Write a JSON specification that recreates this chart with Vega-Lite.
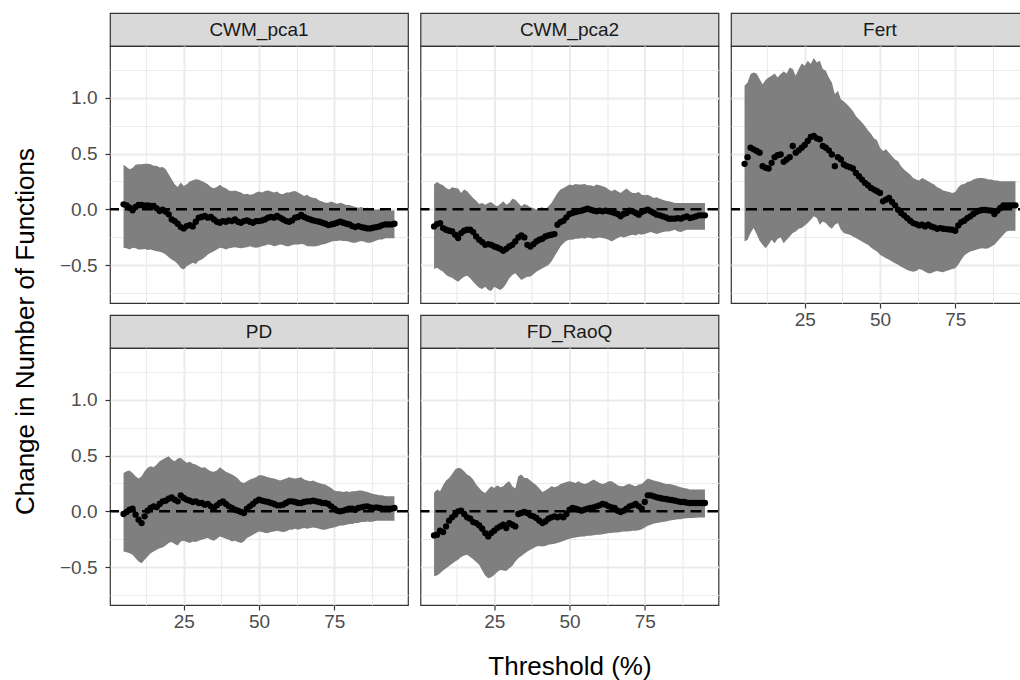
{
  "$schema": "https://vega.github.io/schema/vega-lite/v6.json",
  "background": "white",
  "padding": {"left": 11, "top": 12, "right": 4, "bottom": 4},
  "config": {
    "font": "Liberation Sans",
    "view": {"stroke": "#333333", "strokeWidth": 1.2, "fill": "white"},
    "axis": {
      "gridColor": "#EBEBEB",
      "tickColor": "#333333",
      "tickWidth": 1.2,
      "tickSize": 5,
      "domain": false,
      "labelColor": "#4D4D4D",
      "labelFont": "Liberation Sans",
      "labelFontSize": 19,
      "labelOverlap": false,
      "labelFlush": false,
      "titleFont": "Liberation Sans",
      "titleFontSize": 26,
      "titleFontWeight": "normal",
      "titleColor": "#000000"
    }
  },
  "datasets": {
    "CWM_pca1": [
      {"thr":5,"est":0.045,"lo":-0.345,"hi":0.4},{"thr":6,"est":0.036,"lo":-0.35,"hi":0.38},{"thr":7,"est":0.015,"lo":-0.36,"hi":0.36},{"thr":8,"est":-0.009,"lo":-0.345,"hi":0.37},{"thr":9,"est":0.021,"lo":-0.35,"hi":0.4},
      {"thr":10,"est":0.039,"lo":-0.36,"hi":0.405},{"thr":11,"est":0.039,"lo":-0.36,"hi":0.405},{"thr":12,"est":0.033,"lo":-0.355,"hi":0.41},{"thr":13,"est":0.036,"lo":-0.365,"hi":0.41},{"thr":14,"est":0.03,"lo":-0.36,"hi":0.405},
      {"thr":15,"est":0.03,"lo":-0.37,"hi":0.39},{"thr":16,"est":0.009,"lo":-0.375,"hi":0.39},{"thr":17,"est":-0.015,"lo":-0.38,"hi":0.375},{"thr":18,"est":-0.003,"lo":-0.39,"hi":0.38},{"thr":19,"est":-0.021,"lo":-0.405,"hi":0.36},
      {"thr":20,"est":-0.045,"lo":-0.43,"hi":0.315},{"thr":21,"est":-0.09,"lo":-0.45,"hi":0.27},{"thr":22,"est":-0.105,"lo":-0.465,"hi":0.225},{"thr":23,"est":-0.129,"lo":-0.49,"hi":0.2},{"thr":24,"est":-0.159,"lo":-0.525,"hi":0.24},
      {"thr":25,"est":-0.171,"lo":-0.54,"hi":0.21},{"thr":26,"est":-0.15,"lo":-0.51,"hi":0.225},{"thr":27,"est":-0.141,"lo":-0.495,"hi":0.25},{"thr":28,"est":-0.153,"lo":-0.48,"hi":0.26},{"thr":29,"est":-0.111,"lo":-0.49,"hi":0.27},
      {"thr":30,"est":-0.075,"lo":-0.46,"hi":0.265},{"thr":31,"est":-0.069,"lo":-0.45,"hi":0.255},{"thr":32,"est":-0.06,"lo":-0.43,"hi":0.24},{"thr":33,"est":-0.075,"lo":-0.405,"hi":0.225},{"thr":34,"est":-0.069,"lo":-0.39,"hi":0.2},
      {"thr":35,"est":-0.09,"lo":-0.375,"hi":0.19},{"thr":36,"est":-0.111,"lo":-0.36,"hi":0.2},{"thr":37,"est":-0.12,"lo":-0.345,"hi":0.22},{"thr":38,"est":-0.105,"lo":-0.35,"hi":0.2},{"thr":39,"est":-0.111,"lo":-0.36,"hi":0.19},
      {"thr":40,"est":-0.099,"lo":-0.35,"hi":0.17},{"thr":41,"est":-0.105,"lo":-0.345,"hi":0.165},{"thr":42,"est":-0.09,"lo":-0.34,"hi":0.17},{"thr":43,"est":-0.111,"lo":-0.345,"hi":0.16},{"thr":44,"est":-0.12,"lo":-0.35,"hi":0.15},
      {"thr":45,"est":-0.105,"lo":-0.345,"hi":0.135},{"thr":46,"est":-0.099,"lo":-0.34,"hi":0.14},{"thr":47,"est":-0.111,"lo":-0.33,"hi":0.13},{"thr":48,"est":-0.12,"lo":-0.34,"hi":0.135},{"thr":49,"est":-0.105,"lo":-0.345,"hi":0.15},
      {"thr":50,"est":-0.105,"lo":-0.34,"hi":0.16},{"thr":51,"est":-0.099,"lo":-0.33,"hi":0.15},{"thr":52,"est":-0.09,"lo":-0.325,"hi":0.165},{"thr":53,"est":-0.075,"lo":-0.315,"hi":0.17},{"thr":54,"est":-0.069,"lo":-0.32,"hi":0.16},
      {"thr":55,"est":-0.075,"lo":-0.33,"hi":0.15},{"thr":56,"est":-0.06,"lo":-0.325,"hi":0.16},{"thr":57,"est":-0.075,"lo":-0.315,"hi":0.14},{"thr":58,"est":-0.09,"lo":-0.32,"hi":0.135},{"thr":59,"est":-0.105,"lo":-0.33,"hi":0.15},
      {"thr":60,"est":-0.111,"lo":-0.33,"hi":0.15},{"thr":61,"est":-0.099,"lo":-0.32,"hi":0.16},{"thr":62,"est":-0.075,"lo":-0.315,"hi":0.165},{"thr":63,"est":-0.069,"lo":-0.315,"hi":0.15},{"thr":64,"est":-0.051,"lo":-0.31,"hi":0.135},
      {"thr":65,"est":-0.069,"lo":-0.315,"hi":0.12},{"thr":66,"est":-0.081,"lo":-0.33,"hi":0.13},{"thr":67,"est":-0.09,"lo":-0.33,"hi":0.11},{"thr":68,"est":-0.099,"lo":-0.333,"hi":0.105},{"thr":69,"est":-0.105,"lo":-0.33,"hi":0.1},
      {"thr":70,"est":-0.111,"lo":-0.325,"hi":0.08},{"thr":71,"est":-0.12,"lo":-0.315,"hi":0.07},{"thr":72,"est":-0.129,"lo":-0.31,"hi":0.06},{"thr":73,"est":-0.141,"lo":-0.3,"hi":0.06},{"thr":74,"est":-0.135,"lo":-0.29,"hi":0.07},
      {"thr":75,"est":-0.129,"lo":-0.285,"hi":0.06},{"thr":76,"est":-0.12,"lo":-0.285,"hi":0.05},{"thr":77,"est":-0.111,"lo":-0.28,"hi":0.06},{"thr":78,"est":-0.12,"lo":-0.285,"hi":0.05},{"thr":79,"est":-0.129,"lo":-0.285,"hi":0.04},
      {"thr":80,"est":-0.135,"lo":-0.29,"hi":0.04},{"thr":81,"est":-0.15,"lo":-0.3,"hi":0.03},{"thr":82,"est":-0.159,"lo":-0.3,"hi":0.02},{"thr":83,"est":-0.15,"lo":-0.29,"hi":0.015},{"thr":84,"est":-0.159,"lo":-0.285,"hi":0.02},
      {"thr":85,"est":-0.165,"lo":-0.29,"hi":0.01},{"thr":86,"est":-0.171,"lo":-0.3,"hi":0.015},{"thr":87,"est":-0.171,"lo":-0.3,"hi":0.01},{"thr":88,"est":-0.165,"lo":-0.29,"hi":0.0},{"thr":89,"est":-0.159,"lo":-0.28,"hi":-0.003},
      {"thr":90,"est":-0.153,"lo":-0.27,"hi":0.0},{"thr":91,"est":-0.141,"lo":-0.27,"hi":0.003},{"thr":92,"est":-0.135,"lo":-0.26,"hi":-0.01},{"thr":93,"est":-0.135,"lo":-0.26,"hi":-0.01},{"thr":94,"est":-0.135,"lo":-0.26,"hi":-0.01},
      {"thr":95,"est":-0.129,"lo":-0.26,"hi":-0.01}
    ],
    "CWM_pca2": [
      {"thr":5,"est":-0.153,"lo":-0.535,"hi":0.222},{"thr":6,"est":-0.132,"lo":-0.523,"hi":0.246},{"thr":7,"est":-0.123,"lo":-0.544,"hi":0.228},{"thr":8,"est":-0.168,"lo":-0.559,"hi":0.216},{"thr":9,"est":-0.183,"lo":-0.589,"hi":0.192},
      {"thr":10,"est":-0.192,"lo":-0.604,"hi":0.177},{"thr":11,"est":-0.198,"lo":-0.613,"hi":0.198},{"thr":12,"est":-0.228,"lo":-0.634,"hi":0.192},{"thr":13,"est":-0.258,"lo":-0.649,"hi":0.186},{"thr":14,"est":-0.213,"lo":-0.625,"hi":0.147},
      {"thr":15,"est":-0.192,"lo":-0.604,"hi":0.177},{"thr":16,"est":-0.183,"lo":-0.595,"hi":0.162},{"thr":17,"est":-0.183,"lo":-0.619,"hi":0.132},{"thr":18,"est":-0.204,"lo":-0.649,"hi":0.102},{"thr":19,"est":-0.243,"lo":-0.679,"hi":0.078},
      {"thr":20,"est":-0.273,"lo":-0.703,"hi":0.048},{"thr":21,"est":-0.294,"lo":-0.715,"hi":0.057},{"thr":22,"est":-0.318,"lo":-0.694,"hi":0.042},{"thr":23,"est":-0.312,"lo":-0.724,"hi":0.057},{"thr":24,"est":-0.318,"lo":-0.733,"hi":0.066},
      {"thr":25,"est":-0.333,"lo":-0.694,"hi":0.042},{"thr":26,"est":-0.342,"lo":-0.709,"hi":0.027},{"thr":27,"est":-0.354,"lo":-0.724,"hi":0.048},{"thr":28,"est":-0.372,"lo":-0.703,"hi":0.072},{"thr":29,"est":-0.354,"lo":-0.664,"hi":0.042},
      {"thr":30,"est":-0.333,"lo":-0.619,"hi":0.057},{"thr":31,"est":-0.318,"lo":-0.589,"hi":0.096},{"thr":32,"est":-0.288,"lo":-0.574,"hi":0.087},{"thr":33,"est":-0.252,"lo":-0.604,"hi":0.057},{"thr":34,"est":-0.234,"lo":-0.634,"hi":0.027},
      {"thr":35,"est":-0.252,"lo":-0.619,"hi":0.048},{"thr":36,"est":-0.318,"lo":-0.604,"hi":0.036},{"thr":37,"est":-0.333,"lo":-0.604,"hi":0.018},{"thr":38,"est":-0.312,"lo":-0.583,"hi":0.012},{"thr":39,"est":-0.288,"lo":-0.559,"hi":-0.003},
      {"thr":40,"est":-0.273,"lo":-0.544,"hi":0.012},{"thr":41,"est":-0.264,"lo":-0.529,"hi":0.018},{"thr":42,"est":-0.243,"lo":-0.514,"hi":-0.003},{"thr":43,"est":-0.234,"lo":-0.499,"hi":0.027},{"thr":44,"est":-0.228,"lo":-0.468,"hi":0.057},
      {"thr":45,"est":-0.222,"lo":-0.423,"hi":0.102},{"thr":46,"est":-0.138,"lo":-0.378,"hi":0.147},{"thr":47,"est":-0.114,"lo":-0.333,"hi":0.177},{"thr":48,"est":-0.102,"lo":-0.303,"hi":0.192},{"thr":49,"est":-0.072,"lo":-0.282,"hi":0.207},
      {"thr":50,"est":-0.042,"lo":-0.273,"hi":0.222},{"thr":51,"est":-0.033,"lo":-0.273,"hi":0.216},{"thr":52,"est":-0.024,"lo":-0.264,"hi":0.228},{"thr":53,"est":-0.018,"lo":-0.264,"hi":0.222},{"thr":54,"est":-0.012,"lo":-0.258,"hi":0.222},
      {"thr":55,"est":-0.003,"lo":-0.264,"hi":0.228},{"thr":56,"est":0.006,"lo":-0.252,"hi":0.216},{"thr":57,"est":-0.003,"lo":-0.258,"hi":0.216},{"thr":58,"est":-0.012,"lo":-0.264,"hi":0.207},{"thr":59,"est":-0.018,"lo":-0.258,"hi":0.222},
      {"thr":60,"est":-0.012,"lo":-0.252,"hi":0.216},{"thr":61,"est":-0.018,"lo":-0.258,"hi":0.207},{"thr":62,"est":-0.012,"lo":-0.264,"hi":0.198},{"thr":63,"est":-0.018,"lo":-0.273,"hi":0.177},{"thr":64,"est":-0.024,"lo":-0.288,"hi":0.162},
      {"thr":65,"est":-0.033,"lo":-0.273,"hi":0.177},{"thr":66,"est":-0.042,"lo":-0.258,"hi":0.162},{"thr":67,"est":-0.063,"lo":-0.243,"hi":0.147},{"thr":68,"est":-0.042,"lo":-0.252,"hi":0.168},{"thr":69,"est":-0.033,"lo":-0.243,"hi":0.186},
      {"thr":70,"est":-0.012,"lo":-0.234,"hi":0.162},{"thr":71,"est":-0.018,"lo":-0.228,"hi":0.147},{"thr":72,"est":-0.033,"lo":-0.234,"hi":0.147},{"thr":73,"est":-0.048,"lo":-0.222,"hi":0.156},{"thr":74,"est":-0.024,"lo":-0.228,"hi":0.132},
      {"thr":75,"est":-0.012,"lo":-0.222,"hi":0.126},{"thr":76,"est":-0.003,"lo":-0.213,"hi":0.132},{"thr":77,"est":-0.018,"lo":-0.204,"hi":0.117},{"thr":78,"est":-0.033,"lo":-0.213,"hi":0.102},{"thr":79,"est":-0.048,"lo":-0.222,"hi":0.108},
      {"thr":80,"est":-0.054,"lo":-0.213,"hi":0.096},{"thr":81,"est":-0.063,"lo":-0.204,"hi":0.087},{"thr":82,"est":-0.072,"lo":-0.198,"hi":0.078},{"thr":83,"est":-0.084,"lo":-0.198,"hi":0.072},{"thr":84,"est":-0.084,"lo":-0.192,"hi":0.066},
      {"thr":85,"est":-0.084,"lo":-0.183,"hi":0.057},{"thr":86,"est":-0.078,"lo":-0.198,"hi":0.057},{"thr":87,"est":-0.084,"lo":-0.204,"hi":0.057},{"thr":88,"est":-0.072,"lo":-0.192,"hi":0.057},{"thr":89,"est":-0.063,"lo":-0.183,"hi":0.057},
      {"thr":90,"est":-0.078,"lo":-0.183,"hi":0.057},{"thr":91,"est":-0.072,"lo":-0.183,"hi":0.057},{"thr":92,"est":-0.063,"lo":-0.183,"hi":0.057},{"thr":93,"est":-0.054,"lo":-0.183,"hi":0.057},{"thr":94,"est":-0.054,"lo":-0.183,"hi":0.057},
      {"thr":95,"est":-0.054,"lo":-0.183,"hi":0.057}
    ],
    "Fert": [
      {"thr":5,"est":0.408,"lo":-0.288,"hi":1.108},{"thr":6,"est":0.468,"lo":-0.273,"hi":1.138},{"thr":7,"est":0.553,"lo":-0.213,"hi":1.213},{"thr":8,"est":0.538,"lo":-0.168,"hi":1.228},{"thr":9,"est":0.523,"lo":-0.222,"hi":1.219},
      {"thr":10,"est":0.508,"lo":-0.282,"hi":1.168},{"thr":11,"est":0.387,"lo":-0.318,"hi":1.123},{"thr":12,"est":0.372,"lo":-0.348,"hi":1.159},{"thr":13,"est":0.366,"lo":-0.312,"hi":1.183},{"thr":14,"est":0.417,"lo":-0.273,"hi":1.198},
      {"thr":15,"est":0.468,"lo":-0.303,"hi":1.219},{"thr":16,"est":0.486,"lo":-0.264,"hi":1.183},{"thr":17,"est":0.492,"lo":-0.252,"hi":1.213},{"thr":18,"est":0.426,"lo":-0.303,"hi":1.237},{"thr":19,"est":0.447,"lo":-0.273,"hi":1.219},
      {"thr":20,"est":0.468,"lo":-0.243,"hi":1.273},{"thr":21,"est":0.568,"lo":-0.213,"hi":1.258},{"thr":22,"est":0.508,"lo":-0.198,"hi":1.198},{"thr":23,"est":0.529,"lo":-0.174,"hi":1.258},{"thr":24,"est":0.553,"lo":-0.168,"hi":1.309},
      {"thr":25,"est":0.577,"lo":-0.144,"hi":1.288},{"thr":26,"est":0.613,"lo":-0.123,"hi":1.333},{"thr":27,"est":0.649,"lo":-0.093,"hi":1.303},{"thr":28,"est":0.658,"lo":-0.063,"hi":1.357},{"thr":29,"est":0.637,"lo":-0.078,"hi":1.318},
      {"thr":30,"est":0.628,"lo":-0.138,"hi":1.333},{"thr":31,"est":0.568,"lo":-0.108,"hi":1.258},{"thr":32,"est":0.553,"lo":-0.123,"hi":1.243},{"thr":33,"est":0.529,"lo":-0.153,"hi":1.183},{"thr":34,"est":0.492,"lo":-0.174,"hi":1.138},
      {"thr":35,"est":0.387,"lo":-0.138,"hi":1.033},{"thr":36,"est":0.468,"lo":-0.123,"hi":1.063},{"thr":37,"est":0.447,"lo":-0.183,"hi":0.988},{"thr":38,"est":0.402,"lo":-0.213,"hi":0.967},{"thr":39,"est":0.387,"lo":-0.222,"hi":0.943},
      {"thr":40,"est":0.378,"lo":-0.228,"hi":0.913},{"thr":41,"est":0.366,"lo":-0.243,"hi":0.883},{"thr":42,"est":0.327,"lo":-0.258,"hi":0.838},{"thr":43,"est":0.297,"lo":-0.273,"hi":0.808},{"thr":44,"est":0.267,"lo":-0.288,"hi":0.778},
      {"thr":45,"est":0.237,"lo":-0.303,"hi":0.748},{"thr":46,"est":0.216,"lo":-0.318,"hi":0.709},{"thr":47,"est":0.192,"lo":-0.342,"hi":0.679},{"thr":48,"est":0.177,"lo":-0.363,"hi":0.637},{"thr":49,"est":0.162,"lo":-0.378,"hi":0.619},
      {"thr":50,"est":0.147,"lo":-0.408,"hi":0.553},{"thr":51,"est":0.072,"lo":-0.423,"hi":0.523},{"thr":52,"est":0.087,"lo":-0.438,"hi":0.538},{"thr":53,"est":0.102,"lo":-0.453,"hi":0.508},{"thr":54,"est":0.066,"lo":-0.468,"hi":0.477},
      {"thr":55,"est":0.036,"lo":-0.483,"hi":0.447},{"thr":56,"est":-0.003,"lo":-0.498,"hi":0.432},{"thr":57,"est":-0.033,"lo":-0.514,"hi":0.387},{"thr":58,"est":-0.054,"lo":-0.529,"hi":0.357},{"thr":59,"est":-0.078,"lo":-0.544,"hi":0.336},
      {"thr":60,"est":-0.102,"lo":-0.553,"hi":0.312},{"thr":61,"est":-0.123,"lo":-0.559,"hi":0.282},{"thr":62,"est":-0.132,"lo":-0.553,"hi":0.267},{"thr":63,"est":-0.144,"lo":-0.535,"hi":0.258},{"thr":64,"est":-0.138,"lo":-0.544,"hi":0.282},
      {"thr":65,"est":-0.153,"lo":-0.559,"hi":0.267},{"thr":66,"est":-0.138,"lo":-0.574,"hi":0.252},{"thr":67,"est":-0.153,"lo":-0.574,"hi":0.237},{"thr":68,"est":-0.162,"lo":-0.559,"hi":0.222},{"thr":69,"est":-0.174,"lo":-0.553,"hi":0.198},
      {"thr":70,"est":-0.168,"lo":-0.559,"hi":0.186},{"thr":71,"est":-0.174,"lo":-0.565,"hi":0.168},{"thr":72,"est":-0.177,"lo":-0.553,"hi":0.162},{"thr":73,"est":-0.18,"lo":-0.544,"hi":0.156},{"thr":74,"est":-0.183,"lo":-0.535,"hi":0.147},
      {"thr":75,"est":-0.192,"lo":-0.529,"hi":0.156},{"thr":76,"est":-0.144,"lo":-0.498,"hi":0.198},{"thr":77,"est":-0.114,"lo":-0.453,"hi":0.222},{"thr":78,"est":-0.102,"lo":-0.414,"hi":0.228},{"thr":79,"est":-0.078,"lo":-0.393,"hi":0.246},
      {"thr":80,"est":-0.063,"lo":-0.378,"hi":0.252},{"thr":81,"est":-0.042,"lo":-0.372,"hi":0.267},{"thr":82,"est":-0.024,"lo":-0.363,"hi":0.276},{"thr":83,"est":-0.012,"lo":-0.354,"hi":0.282},{"thr":84,"est":-0.006,"lo":-0.348,"hi":0.282},
      {"thr":85,"est":-0.006,"lo":-0.354,"hi":0.276},{"thr":86,"est":-0.009,"lo":-0.348,"hi":0.267},{"thr":87,"est":-0.012,"lo":-0.333,"hi":0.267},{"thr":88,"est":-0.042,"lo":-0.318,"hi":0.258},{"thr":89,"est":-0.012,"lo":-0.288,"hi":0.258},
      {"thr":90,"est":0.012,"lo":-0.258,"hi":0.252},{"thr":91,"est":0.036,"lo":-0.228,"hi":0.252},{"thr":92,"est":0.036,"lo":-0.198,"hi":0.252},{"thr":93,"est":0.036,"lo":-0.192,"hi":0.252},{"thr":94,"est":0.036,"lo":-0.192,"hi":0.252},
      {"thr":95,"est":0.036,"lo":-0.192,"hi":0.252}
    ],
    "PD": [
      {"thr":5,"est":-0.024,"lo":-0.36,"hi":0.345},{"thr":6,"est":-0.006,"lo":-0.366,"hi":0.36},{"thr":7,"est":0.015,"lo":-0.375,"hi":0.366},{"thr":8,"est":0.024,"lo":-0.39,"hi":0.345},{"thr":9,"est":-0.03,"lo":-0.42,"hi":0.315},
      {"thr":10,"est":-0.075,"lo":-0.45,"hi":0.294},{"thr":11,"est":-0.105,"lo":-0.465,"hi":0.315},{"thr":12,"est":-0.045,"lo":-0.435,"hi":0.36},{"thr":13,"est":0.006,"lo":-0.405,"hi":0.39},{"thr":14,"est":0.03,"lo":-0.375,"hi":0.405},
      {"thr":15,"est":0.045,"lo":-0.36,"hi":0.396},{"thr":16,"est":0.036,"lo":-0.345,"hi":0.42},{"thr":17,"est":0.066,"lo":-0.33,"hi":0.45},{"thr":18,"est":0.09,"lo":-0.324,"hi":0.465},{"thr":19,"est":0.096,"lo":-0.306,"hi":0.48},
      {"thr":20,"est":0.114,"lo":-0.285,"hi":0.495},{"thr":21,"est":0.126,"lo":-0.276,"hi":0.465},{"thr":22,"est":0.105,"lo":-0.294,"hi":0.45},{"thr":23,"est":0.09,"lo":-0.306,"hi":0.474},{"thr":24,"est":0.144,"lo":-0.27,"hi":0.48},
      {"thr":25,"est":0.12,"lo":-0.264,"hi":0.456},{"thr":26,"est":0.105,"lo":-0.276,"hi":0.435},{"thr":27,"est":0.096,"lo":-0.285,"hi":0.444},{"thr":28,"est":0.084,"lo":-0.27,"hi":0.426},{"thr":29,"est":0.09,"lo":-0.276,"hi":0.42},
      {"thr":30,"est":0.075,"lo":-0.264,"hi":0.405},{"thr":31,"est":0.075,"lo":-0.255,"hi":0.39},{"thr":32,"est":0.06,"lo":-0.246,"hi":0.396},{"thr":33,"est":0.066,"lo":-0.24,"hi":0.375},{"thr":34,"est":0.045,"lo":-0.255,"hi":0.36},
      {"thr":35,"est":0.024,"lo":-0.264,"hi":0.354},{"thr":36,"est":0.054,"lo":-0.246,"hi":0.366},{"thr":37,"est":0.075,"lo":-0.225,"hi":0.396},{"thr":38,"est":0.09,"lo":-0.234,"hi":0.375},{"thr":39,"est":0.066,"lo":-0.246,"hi":0.354},
      {"thr":40,"est":0.045,"lo":-0.255,"hi":0.345},{"thr":41,"est":0.03,"lo":-0.27,"hi":0.33},{"thr":42,"est":0.015,"lo":-0.264,"hi":0.315},{"thr":43,"est":0.006,"lo":-0.276,"hi":0.294},{"thr":44,"est":-0.006,"lo":-0.285,"hi":0.264},
      {"thr":45,"est":-0.015,"lo":-0.27,"hi":0.255},{"thr":46,"est":0.024,"lo":-0.24,"hi":0.27},{"thr":47,"est":0.045,"lo":-0.225,"hi":0.285},{"thr":48,"est":0.066,"lo":-0.21,"hi":0.294},{"thr":49,"est":0.09,"lo":-0.195,"hi":0.306},
      {"thr":50,"est":0.105,"lo":-0.18,"hi":0.324},{"thr":51,"est":0.096,"lo":-0.186,"hi":0.324},{"thr":52,"est":0.09,"lo":-0.195,"hi":0.315},{"thr":53,"est":0.084,"lo":-0.195,"hi":0.306},{"thr":54,"est":0.075,"lo":-0.186,"hi":0.3},
      {"thr":55,"est":0.066,"lo":-0.18,"hi":0.294},{"thr":56,"est":0.054,"lo":-0.174,"hi":0.285},{"thr":57,"est":0.054,"lo":-0.18,"hi":0.276},{"thr":58,"est":0.06,"lo":-0.186,"hi":0.285},{"thr":59,"est":0.075,"lo":-0.18,"hi":0.294},
      {"thr":60,"est":0.09,"lo":-0.165,"hi":0.306},{"thr":61,"est":0.09,"lo":-0.165,"hi":0.3},{"thr":62,"est":0.084,"lo":-0.156,"hi":0.294},{"thr":63,"est":0.075,"lo":-0.165,"hi":0.3},{"thr":64,"est":0.075,"lo":-0.156,"hi":0.306},
      {"thr":65,"est":0.084,"lo":-0.15,"hi":0.285},{"thr":66,"est":0.09,"lo":-0.156,"hi":0.276},{"thr":67,"est":0.09,"lo":-0.15,"hi":0.27},{"thr":68,"est":0.096,"lo":-0.144,"hi":0.276},{"thr":69,"est":0.09,"lo":-0.15,"hi":0.264},
      {"thr":70,"est":0.084,"lo":-0.156,"hi":0.255},{"thr":71,"est":0.075,"lo":-0.165,"hi":0.246},{"thr":72,"est":0.075,"lo":-0.165,"hi":0.24},{"thr":73,"est":0.066,"lo":-0.156,"hi":0.225},{"thr":74,"est":0.045,"lo":-0.15,"hi":0.21},
      {"thr":75,"est":0.024,"lo":-0.144,"hi":0.186},{"thr":76,"est":0.006,"lo":-0.135,"hi":0.18},{"thr":77,"est":0.0,"lo":-0.126,"hi":0.18},{"thr":78,"est":0.006,"lo":-0.126,"hi":0.174},{"thr":79,"est":0.015,"lo":-0.12,"hi":0.18},
      {"thr":80,"est":0.024,"lo":-0.114,"hi":0.174},{"thr":81,"est":0.024,"lo":-0.114,"hi":0.18},{"thr":82,"est":0.015,"lo":-0.105,"hi":0.18},{"thr":83,"est":0.03,"lo":-0.105,"hi":0.186},{"thr":84,"est":0.036,"lo":-0.096,"hi":0.186},
      {"thr":85,"est":0.042,"lo":-0.096,"hi":0.18},{"thr":86,"est":0.045,"lo":-0.09,"hi":0.174},{"thr":87,"est":0.036,"lo":-0.096,"hi":0.165},{"thr":88,"est":0.03,"lo":-0.09,"hi":0.156},{"thr":89,"est":0.036,"lo":-0.084,"hi":0.15},
      {"thr":90,"est":0.03,"lo":-0.084,"hi":0.144},{"thr":91,"est":0.024,"lo":-0.084,"hi":0.144},{"thr":92,"est":0.024,"lo":-0.084,"hi":0.135},{"thr":93,"est":0.024,"lo":-0.084,"hi":0.135},{"thr":94,"est":0.024,"lo":-0.084,"hi":0.135},
      {"thr":95,"est":0.03,"lo":-0.084,"hi":0.135}
    ],
    "FD_RaoQ": [
      {"thr":5,"est":-0.216,"lo":-0.58,"hi":0.165},{"thr":6,"est":-0.21,"lo":-0.575,"hi":0.195},{"thr":7,"est":-0.174,"lo":-0.555,"hi":0.18},{"thr":8,"est":-0.186,"lo":-0.53,"hi":0.234},{"thr":9,"est":-0.135,"lo":-0.51,"hi":0.276},
      {"thr":10,"est":-0.084,"lo":-0.49,"hi":0.3},{"thr":11,"est":-0.054,"lo":-0.47,"hi":0.336},{"thr":12,"est":-0.03,"lo":-0.45,"hi":0.375},{"thr":13,"est":0.0,"lo":-0.435,"hi":0.39},{"thr":14,"est":0.006,"lo":-0.41,"hi":0.384},
      {"thr":15,"est":-0.024,"lo":-0.395,"hi":0.36},{"thr":16,"est":-0.054,"lo":-0.39,"hi":0.33},{"thr":17,"est":-0.066,"lo":-0.41,"hi":0.315},{"thr":18,"est":-0.096,"lo":-0.43,"hi":0.285},{"thr":19,"est":-0.105,"lo":-0.455,"hi":0.24},
      {"thr":20,"est":-0.126,"lo":-0.48,"hi":0.21},{"thr":21,"est":-0.156,"lo":-0.53,"hi":0.18},{"thr":22,"est":-0.195,"lo":-0.575,"hi":0.165},{"thr":23,"est":-0.225,"lo":-0.6,"hi":0.195},{"thr":24,"est":-0.195,"lo":-0.59,"hi":0.225},
      {"thr":25,"est":-0.174,"lo":-0.57,"hi":0.21},{"thr":26,"est":-0.15,"lo":-0.545,"hi":0.234},{"thr":27,"est":-0.135,"lo":-0.525,"hi":0.216},{"thr":28,"est":-0.12,"lo":-0.53,"hi":0.225},{"thr":29,"est":-0.15,"lo":-0.535,"hi":0.255},
      {"thr":30,"est":-0.105,"lo":-0.51,"hi":0.27},{"thr":31,"est":-0.12,"lo":-0.49,"hi":0.225},{"thr":32,"est":-0.135,"lo":-0.45,"hi":0.204},{"thr":33,"est":-0.024,"lo":-0.42,"hi":0.315},{"thr":34,"est":-0.015,"lo":-0.4,"hi":0.33},
      {"thr":35,"est":-0.006,"lo":-0.38,"hi":0.3},{"thr":36,"est":-0.015,"lo":-0.36,"hi":0.3},{"thr":37,"est":-0.036,"lo":-0.345,"hi":0.276},{"thr":38,"est":-0.045,"lo":-0.33,"hi":0.255},{"thr":39,"est":-0.06,"lo":-0.315,"hi":0.234},
      {"thr":40,"est":-0.084,"lo":-0.31,"hi":0.204},{"thr":41,"est":-0.105,"lo":-0.315,"hi":0.174},{"thr":42,"est":-0.09,"lo":-0.31,"hi":0.186},{"thr":43,"est":-0.066,"lo":-0.3,"hi":0.204},{"thr":44,"est":-0.054,"lo":-0.295,"hi":0.225},
      {"thr":45,"est":-0.045,"lo":-0.29,"hi":0.216},{"thr":46,"est":-0.054,"lo":-0.285,"hi":0.225},{"thr":47,"est":-0.045,"lo":-0.275,"hi":0.246},{"thr":48,"est":-0.054,"lo":-0.265,"hi":0.255},{"thr":49,"est":-0.024,"lo":-0.255,"hi":0.264},
      {"thr":50,"est":0.015,"lo":-0.245,"hi":0.27},{"thr":51,"est":0.03,"lo":-0.24,"hi":0.264},{"thr":52,"est":0.024,"lo":-0.235,"hi":0.255},{"thr":53,"est":0.015,"lo":-0.23,"hi":0.27},{"thr":54,"est":0.006,"lo":-0.225,"hi":0.255},
      {"thr":55,"est":0.015,"lo":-0.225,"hi":0.246},{"thr":56,"est":0.024,"lo":-0.22,"hi":0.255},{"thr":57,"est":0.03,"lo":-0.22,"hi":0.27},{"thr":58,"est":0.036,"lo":-0.215,"hi":0.285},{"thr":59,"est":0.045,"lo":-0.21,"hi":0.27},
      {"thr":60,"est":0.054,"lo":-0.21,"hi":0.255},{"thr":61,"est":0.066,"lo":-0.205,"hi":0.246},{"thr":62,"est":0.06,"lo":-0.2,"hi":0.255},{"thr":63,"est":0.045,"lo":-0.195,"hi":0.27},{"thr":64,"est":0.036,"lo":-0.195,"hi":0.27},
      {"thr":65,"est":0.03,"lo":-0.19,"hi":0.255},{"thr":66,"est":0.006,"lo":-0.19,"hi":0.234},{"thr":67,"est":-0.006,"lo":-0.185,"hi":0.225},{"thr":68,"est":0.006,"lo":-0.18,"hi":0.225},{"thr":69,"est":0.024,"lo":-0.18,"hi":0.24},
      {"thr":70,"est":0.045,"lo":-0.178,"hi":0.246},{"thr":71,"est":0.054,"lo":-0.175,"hi":0.234},{"thr":72,"est":0.066,"lo":-0.175,"hi":0.225},{"thr":73,"est":0.045,"lo":-0.17,"hi":0.24},{"thr":74,"est":0.024,"lo":-0.16,"hi":0.246},
      {"thr":75,"est":0.084,"lo":-0.145,"hi":0.27},{"thr":76,"est":0.144,"lo":-0.13,"hi":0.294},{"thr":77,"est":0.144,"lo":-0.12,"hi":0.285},{"thr":78,"est":0.135,"lo":-0.11,"hi":0.276},{"thr":79,"est":0.126,"lo":-0.105,"hi":0.27},
      {"thr":80,"est":0.12,"lo":-0.1,"hi":0.264},{"thr":81,"est":0.114,"lo":-0.095,"hi":0.255},{"thr":82,"est":0.111,"lo":-0.09,"hi":0.246},{"thr":83,"est":0.105,"lo":-0.085,"hi":0.246},{"thr":84,"est":0.102,"lo":-0.08,"hi":0.24},
      {"thr":85,"est":0.096,"lo":-0.075,"hi":0.234},{"thr":86,"est":0.09,"lo":-0.072,"hi":0.225},{"thr":87,"est":0.084,"lo":-0.07,"hi":0.216},{"thr":88,"est":0.084,"lo":-0.065,"hi":0.21},{"thr":89,"est":0.078,"lo":-0.062,"hi":0.204},
      {"thr":90,"est":0.075,"lo":-0.06,"hi":0.195},{"thr":91,"est":0.075,"lo":-0.06,"hi":0.195},{"thr":92,"est":0.075,"lo":-0.058,"hi":0.195},{"thr":93,"est":0.075,"lo":-0.056,"hi":0.195},{"thr":94,"est":0.075,"lo":-0.055,"hi":0.195},
      {"thr":95,"est":0.075,"lo":-0.055,"hi":0.195}
    ]
  },
  "columns": 3,
  "spacing": {"row": 0, "column": 12.5},
  "bounds": "flush",
  "concat": [
    {"width": 298, "height": 33, "data": {"values": [{"label": "CWM_pca1"}]},
     "view": {"fill": "#D9D9D9", "stroke": "#333333", "strokeWidth": 1.2},
     "mark": {"type": "text", "font": "Liberation Sans", "fontSize": 19, "color": "#1A1A1A", "align": "center", "baseline": "middle"},
     "encoding": {"text": {"field": "label", "type": "nominal"}}},
    {"width": 298, "height": 33, "data": {"values": [{"label": "CWM_pca2"}]},
     "view": {"fill": "#D9D9D9", "stroke": "#333333", "strokeWidth": 1.2},
     "mark": {"type": "text", "font": "Liberation Sans", "fontSize": 19, "color": "#1A1A1A", "align": "center", "baseline": "middle"},
     "encoding": {"text": {"field": "label", "type": "nominal"}}},
    {"width": 298, "height": 33, "data": {"values": [{"label": "Fert"}]},
     "view": {"fill": "#D9D9D9", "stroke": "#333333", "strokeWidth": 1.2},
     "mark": {"type": "text", "font": "Liberation Sans", "fontSize": 19, "color": "#1A1A1A", "align": "center", "baseline": "middle"},
     "encoding": {"text": {"field": "label", "type": "nominal"}}},

    {"width": 298, "height": 257, "data": {"name": "CWM_pca1"},
     "resolve": {"axis": {"y": "independent"}},
     "layer": [
       {"mark": {"type": "area", "color": "#7F7F7F", "opacity": 1},
        "encoding": {
          "x": {"field": "thr", "type": "quantitative", "scale": {"domain": [0.5, 99.5], "nice": false, "zero": false},
                "axis": {"values": [12.5, 25, 37.5, 50, 62.5, 75, 87.5], "title": null, "labels": false, "ticks": false,
                         "gridWidth": {"condition": {"test": "datum.value % 25 != 0", "value": 1.1}, "value": 2}}},
          "y": {"field": "lo", "type": "quantitative", "scale": {"domain": [-0.84, 1.465], "nice": false, "zero": false},
                "axis": {"orient": "left", "values": [-0.5, 0, 0.5, 1], "format": ".1f", "gridWidth": 2, "labelPadding": 8,
                         "title": "Change in Number of Functions", "titleAngle": -90, "titleAlign": "center", "titleBaseline": "alphabetic",
                         "titleX": -77, "titleY": 285}},
          "y2": {"field": "hi"}}},
       {"data": {"values": [{}]},
        "mark": {"type": "rule", "color": "black", "strokeWidth": 2.5, "strokeDash": [11, 6]},
        "encoding": {"y": {"datum": 0, "type": "quantitative", "scale": {"domain": [-0.84, 1.465], "nice": false, "zero": false},
                           "axis": {"orient": "right", "values": [-0.75, -0.25, 0.25, 0.75, 1.25], "labels": false, "ticks": false, "title": null, "grid": true, "gridWidth": 1.1}}}},
       {"mark": {"type": "point", "filled": true, "shape": "circle", "color": "black", "opacity": 1, "size": 40},
        "encoding": {
          "x": {"field": "thr", "type": "quantitative", "scale": {"domain": [0.5, 99.5], "nice": false, "zero": false}},
          "y": {"field": "est", "type": "quantitative", "scale": {"domain": [-0.84, 1.465], "nice": false, "zero": false}, "axis": null}}}
     ]},
    {"width": 298, "height": 257, "data": {"name": "CWM_pca2"},
     "resolve": {"axis": {"y": "independent"}},
     "layer": [
       {"mark": {"type": "area", "color": "#7F7F7F", "opacity": 1},
        "encoding": {
          "x": {"field": "thr", "type": "quantitative", "scale": {"domain": [0.5, 99.5], "nice": false, "zero": false},
                "axis": {"values": [12.5, 25, 37.5, 50, 62.5, 75, 87.5], "title": null, "labels": false, "ticks": false,
                         "gridWidth": {"condition": {"test": "datum.value % 25 != 0", "value": 1.1}, "value": 2}}},
          "y": {"field": "lo", "type": "quantitative", "scale": {"domain": [-0.84, 1.465], "nice": false, "zero": false},
                "axis": {"orient": "left", "values": [-0.5, 0, 0.5, 1], "title": null, "labels": false, "ticks": false, "gridWidth": 2}},
          "y2": {"field": "hi"}}},
       {"data": {"values": [{}]},
        "mark": {"type": "rule", "color": "black", "strokeWidth": 2.5, "strokeDash": [11, 6]},
        "encoding": {"y": {"datum": 0, "type": "quantitative", "scale": {"domain": [-0.84, 1.465], "nice": false, "zero": false},
                           "axis": {"orient": "right", "values": [-0.75, -0.25, 0.25, 0.75, 1.25], "labels": false, "ticks": false, "title": null, "grid": true, "gridWidth": 1.1}}}},
       {"mark": {"type": "point", "filled": true, "shape": "circle", "color": "black", "opacity": 1, "size": 40},
        "encoding": {
          "x": {"field": "thr", "type": "quantitative", "scale": {"domain": [0.5, 99.5], "nice": false, "zero": false}},
          "y": {"field": "est", "type": "quantitative", "scale": {"domain": [-0.84, 1.465], "nice": false, "zero": false}, "axis": null}}}
     ]},
    {"width": 298, "height": 257, "data": {"name": "Fert"},
     "resolve": {"axis": {"y": "independent"}},
     "layer": [
       {"mark": {"type": "area", "color": "#7F7F7F", "opacity": 1},
        "encoding": {
          "x": {"field": "thr", "type": "quantitative", "scale": {"domain": [0.5, 99.5], "nice": false, "zero": false},
                "axis": {"values": [12.5, 25, 37.5, 50, 62.5, 75, 87.5], "title": null,
                         "labelOpacity": {"condition": {"test": "datum.value % 25 != 0", "value": 0}, "value": 1},
                         "tickOpacity": {"condition": {"test": "datum.value % 25 != 0", "value": 0}, "value": 1},
                         "gridWidth": {"condition": {"test": "datum.value % 25 != 0", "value": 1.1}, "value": 2},
                         "labelPadding": 2}},
          "y": {"field": "lo", "type": "quantitative", "scale": {"domain": [-0.84, 1.465], "nice": false, "zero": false},
                "axis": {"orient": "left", "values": [-0.5, 0, 0.5, 1], "title": null, "labels": false, "ticks": false, "gridWidth": 2}},
          "y2": {"field": "hi"}}},
       {"data": {"values": [{}]},
        "mark": {"type": "rule", "color": "black", "strokeWidth": 2.5, "strokeDash": [11, 6]},
        "encoding": {"y": {"datum": 0, "type": "quantitative", "scale": {"domain": [-0.84, 1.465], "nice": false, "zero": false},
                           "axis": {"orient": "right", "values": [-0.75, -0.25, 0.25, 0.75, 1.25], "labels": false, "ticks": false, "title": null, "grid": true, "gridWidth": 1.1}}}},
       {"mark": {"type": "point", "filled": true, "shape": "circle", "color": "black", "opacity": 1, "size": 40},
        "encoding": {
          "x": {"field": "thr", "type": "quantitative", "scale": {"domain": [0.5, 99.5], "nice": false, "zero": false}},
          "y": {"field": "est", "type": "quantitative", "scale": {"domain": [-0.84, 1.465], "nice": false, "zero": false}, "axis": null}}}
     ]},

    {"width": 298, "height": 12, "data": {"values": [{}]}, "view": {"stroke": null, "fill": null},
     "mark": {"type": "text", "opacity": 0}, "encoding": {"text": {"value": ""}}},
    {"width": 298, "height": 12, "data": {"values": [{}]}, "view": {"stroke": null, "fill": null},
     "mark": {"type": "text", "opacity": 0}, "encoding": {"text": {"value": ""}}},
    {"width": 298, "height": 12, "data": {"values": [{}]}, "view": {"stroke": null, "fill": null},
     "mark": {"type": "text", "opacity": 0}, "encoding": {"text": {"value": ""}}},

    {"width": 298, "height": 33, "data": {"values": [{"label": "PD"}]},
     "view": {"fill": "#D9D9D9", "stroke": "#333333", "strokeWidth": 1.2},
     "mark": {"type": "text", "font": "Liberation Sans", "fontSize": 19, "color": "#1A1A1A", "align": "center", "baseline": "middle"},
     "encoding": {"text": {"field": "label", "type": "nominal"}}},
    {"width": 298, "height": 33, "data": {"values": [{"label": "FD_RaoQ"}]},
     "view": {"fill": "#D9D9D9", "stroke": "#333333", "strokeWidth": 1.2},
     "mark": {"type": "text", "font": "Liberation Sans", "fontSize": 19, "color": "#1A1A1A", "align": "center", "baseline": "middle"},
     "encoding": {"text": {"field": "label", "type": "nominal"}}},
    {"width": 298, "height": 33, "data": {"values": [{}]}, "view": {"stroke": null, "fill": null},
     "mark": {"type": "text", "opacity": 0}, "encoding": {"text": {"value": ""}}},

    {"width": 298, "height": 257, "data": {"name": "PD"},
     "resolve": {"axis": {"y": "independent"}},
     "layer": [
       {"mark": {"type": "area", "color": "#7F7F7F", "opacity": 1},
        "encoding": {
          "x": {"field": "thr", "type": "quantitative", "scale": {"domain": [0.5, 99.5], "nice": false, "zero": false},
                "axis": {"values": [12.5, 25, 37.5, 50, 62.5, 75, 87.5], "title": null,
                         "labelOpacity": {"condition": {"test": "datum.value % 25 != 0", "value": 0}, "value": 1},
                         "tickOpacity": {"condition": {"test": "datum.value % 25 != 0", "value": 0}, "value": 1},
                         "gridWidth": {"condition": {"test": "datum.value % 25 != 0", "value": 1.1}, "value": 2},
                         "labelPadding": 2}},
          "y": {"field": "lo", "type": "quantitative", "scale": {"domain": [-0.84, 1.465], "nice": false, "zero": false},
                "axis": {"orient": "left", "values": [-0.5, 0, 0.5, 1], "format": ".1f", "title": null, "gridWidth": 2, "labelPadding": 8}},
          "y2": {"field": "hi"}}},
       {"data": {"values": [{}]},
        "mark": {"type": "rule", "color": "black", "strokeWidth": 2.5, "strokeDash": [11, 6]},
        "encoding": {"y": {"datum": 0, "type": "quantitative", "scale": {"domain": [-0.84, 1.465], "nice": false, "zero": false},
                           "axis": {"orient": "right", "values": [-0.75, -0.25, 0.25, 0.75, 1.25], "labels": false, "ticks": false, "title": null, "grid": true, "gridWidth": 1.1}}}},
       {"mark": {"type": "point", "filled": true, "shape": "circle", "color": "black", "opacity": 1, "size": 40},
        "encoding": {
          "x": {"field": "thr", "type": "quantitative", "scale": {"domain": [0.5, 99.5], "nice": false, "zero": false}},
          "y": {"field": "est", "type": "quantitative", "scale": {"domain": [-0.84, 1.465], "nice": false, "zero": false}, "axis": null}}}
     ]},
    {"width": 298, "height": 257, "data": {"name": "FD_RaoQ"},
     "resolve": {"axis": {"y": "independent"}},
     "layer": [
       {"mark": {"type": "area", "color": "#7F7F7F", "opacity": 1},
        "encoding": {
          "x": {"field": "thr", "type": "quantitative", "scale": {"domain": [0.5, 99.5], "nice": false, "zero": false},
                "axis": {"values": [12.5, 25, 37.5, 50, 62.5, 75, 87.5],
                         "labelOpacity": {"condition": {"test": "datum.value % 25 != 0", "value": 0}, "value": 1},
                         "tickOpacity": {"condition": {"test": "datum.value % 25 != 0", "value": 0}, "value": 1},
                         "gridWidth": {"condition": {"test": "datum.value % 25 != 0", "value": 1.1}, "value": 2},
                         "labelPadding": 2,
                         "title": "Threshold (%)", "titleX": 149, "titleY": 61, "titleAlign": "center", "titleBaseline": "middle"}},
          "y": {"field": "lo", "type": "quantitative", "scale": {"domain": [-0.84, 1.465], "nice": false, "zero": false},
                "axis": {"orient": "left", "values": [-0.5, 0, 0.5, 1], "title": null, "labels": false, "ticks": false, "gridWidth": 2}},
          "y2": {"field": "hi"}}},
       {"data": {"values": [{}]},
        "mark": {"type": "rule", "color": "black", "strokeWidth": 2.5, "strokeDash": [11, 6]},
        "encoding": {"y": {"datum": 0, "type": "quantitative", "scale": {"domain": [-0.84, 1.465], "nice": false, "zero": false},
                           "axis": {"orient": "right", "values": [-0.75, -0.25, 0.25, 0.75, 1.25], "labels": false, "ticks": false, "title": null, "grid": true, "gridWidth": 1.1}}}},
       {"mark": {"type": "point", "filled": true, "shape": "circle", "color": "black", "opacity": 1, "size": 40},
        "encoding": {
          "x": {"field": "thr", "type": "quantitative", "scale": {"domain": [0.5, 99.5], "nice": false, "zero": false}},
          "y": {"field": "est", "type": "quantitative", "scale": {"domain": [-0.84, 1.465], "nice": false, "zero": false}, "axis": null}}}
     ]}
  ]
}
